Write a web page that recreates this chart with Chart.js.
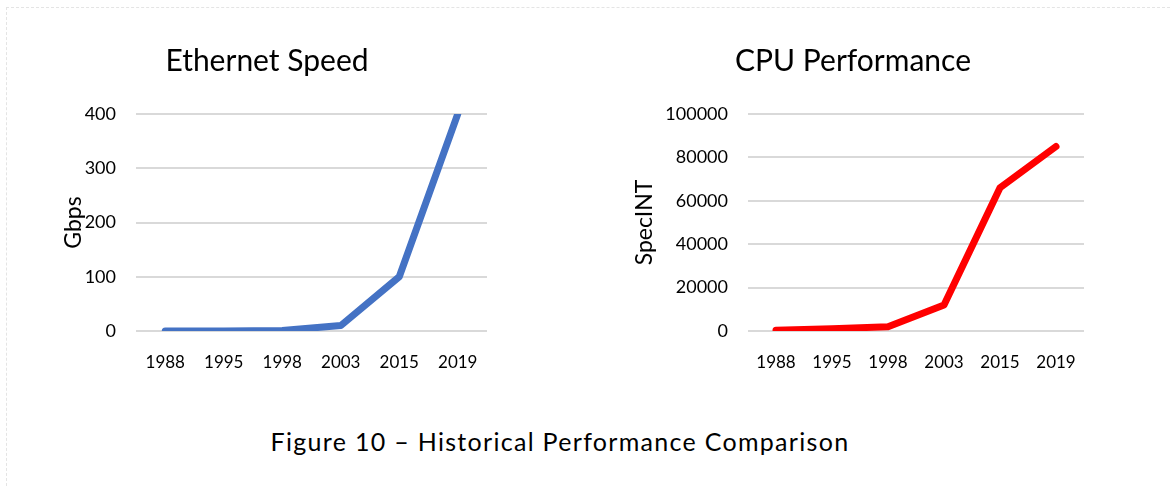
<!DOCTYPE html>
<html>
<head>
<meta charset="utf-8">
<script src="https://cdn.jsdelivr.net/npm/chart.js@4.4.1/dist/chart.umd.min.js"></script>
<style>
  html, body { margin: 0; padding: 0; background: #fff; }
  body { width: 1170px; height: 486px; position: relative; overflow: hidden; font-family: Lato, sans-serif; }
  #marco {
    position: absolute; left: 6px; top: 7px; right: -10px; bottom: -10px;
    border-top: 1px dashed #e4e4e4; border-left: 1px dashed #e4e4e4;
  }
  .caja { position: absolute; top: 0; height: 376px; }
  #cajaEthernet { left: 47px; width: 440px; }
  #cajaCPU { left: 622px; width: 462px; }
  #pie {
    position: absolute; left: 0; width: 1120px; top: 426px;
    text-align: center; font-size: 25px; letter-spacing: 1.3px; color: #000;
  }
</style>
</head>
<body>
<div id="marco"></div>
<div class="caja" id="cajaEthernet"><canvas id="ethernetChart"></canvas></div>
<div class="caja" id="cajaCPU"><canvas id="cpuChart"></canvas></div>
<div id="pie">Figure 10 – Historical Performance Comparison</div>

<script>
// Datos
const anios = ["1988", "1995", "1998", "2003", "2015", "2019"];
const velocidadEthernet = [0.01, 0.1, 1, 10, 100, 400];   // Gbps
const rendimientoCPU = [400, 1000, 2000, 12000, 66000, 85000]; // SpecINT
const ticksEthernet = [0, 100, 200, 300, 400];
const ticksCPU = [0, 20000, 40000, 60000, 80000, 100000];

/**
 * Dibuja una gráfica de línea con el estilo de la figura.
 * anchoEje: ancho fijo del eje Y (etiquetas + título del eje).
 */
function crearGrafica(idCanvas, titulo, tituloEje, valores, color, ticks, anchoEje, padEje) {
  const ctx = document.getElementById(idCanvas).getContext("2d");
  return new Chart(ctx, {
    type: "line",
    data: {
      labels: anios,
      datasets: [{
        data: valores,
        borderColor: color,
        backgroundColor: color,
        borderWidth: 7,
        borderCapStyle: "round",
        borderJoinStyle: "round",
        tension: 0,
        pointRadius: 0
      }]
    },
    options: {
      responsive: true,
      maintainAspectRatio: false,
      animation: false,
      layout: { padding: 0 },
      plugins: {
        legend: { display: false },
        tooltip: { enabled: false },
        title: {
          display: true,
          text: titulo,
          color: "#000",
          font: { family: "Lato", size: 30, weight: "normal", lineHeight: 1.2 },
          padding: { top: 43, bottom: 35 }
        }
      },
      scales: {
        x: {
          offset: true,
          grid: { display: false, drawTicks: false },
          border: { display: false },
          ticks: { color: "#000", font: { family: "Lato", size: 17 }, padding: 21, maxRotation: 0, autoSkip: false },
          afterFit: escala => {
            escala.height = 45;
            escala.paddingLeft = 0;
            escala.paddingRight = 0;
          }
        },
        y: {
          min: ticks[0],
          max: ticks[ticks.length - 1],
          afterBuildTicks: escala => { escala.ticks = ticks.map(v => ({ value: v })); },
          afterFit: escala => {
            escala.width = anchoEje;
            escala.paddingTop = 0;
            escala.paddingBottom = 0;
          },
          grid: { color: "#d9d9d9", lineWidth: 2, drawTicks: false },
          border: { display: false },
          ticks: {
            color: "#000",
            font: { family: "Lato", size: 18 },
            padding: 20,
            callback: valor => String(valor)
          },
          title: {
            display: true,
            text: tituloEje,
            color: "#000",
            font: { family: "Lato", size: 23 },
            padding: { top: padEje, bottom: 0 }
          }
        }
      }
    }
  });
}

crearGrafica("ethernetChart", "Ethernet Speed", "Gbps", velocidadEthernet, "#4472C4", ticksEthernet, 89, 13);
crearGrafica("cpuChart", "CPU Performance", "SpecINT", rendimientoCPU, "#FF0000", ticksCPU, 126, 9);
</script>
</body>
</html>
